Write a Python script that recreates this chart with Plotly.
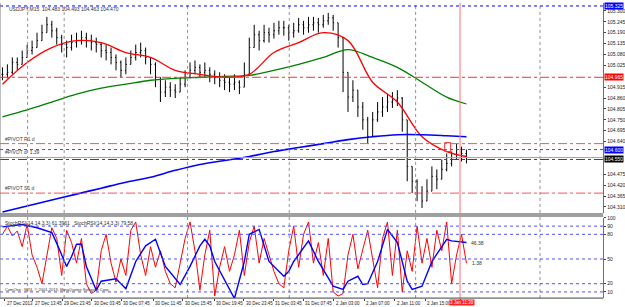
import plotly.graph_objects as go

# ---------------- data ----------------
closes = [104.980, 104.990, 105.040, 105.030, 105.065, 105.100, 105.115, 105.150, 105.190, 105.230,
          105.200, 105.165, 105.130, 105.115, 105.140, 105.150, 105.165, 105.150, 105.140, 105.130,
          105.100, 105.090, 105.065, 105.040, 105.000, 105.030, 105.065, 105.090, 105.100, 105.065,
          105.030, 104.965, 104.890, 104.915, 104.900, 104.890, 104.930, 104.965, 105.000, 105.015,
          104.990, 105.000, 104.980, 104.965, 104.950, 104.940, 104.930, 104.940, 104.915, 104.980,
          105.115, 105.180, 105.150, 105.190, 105.180, 105.200, 105.215, 105.215, 105.190, 105.200,
          105.230, 105.215, 105.230, 105.240, 105.230, 105.250, 105.265, 105.240, 105.165, 104.990,
          104.865, 104.900, 104.815, 104.750, 104.665, 104.750, 104.790, 104.815, 104.840, 104.850,
          104.860, 104.750, 104.515, 104.440, 104.380, 104.340, 104.390, 104.465, 104.450, 104.500,
          104.530, 104.550, 104.600, 104.580, 104.550]
highs = [105.015, 105.030, 105.065, 105.065, 105.100, 105.130, 105.150, 105.190, 105.230, 105.270,
         105.250, 105.215, 105.180, 105.150, 105.180, 105.190, 105.200, 105.190, 105.180, 105.165,
         105.140, 105.130, 105.115, 105.080, 105.050, 105.065, 105.100, 105.130, 105.140, 105.115,
         105.065, 105.040, 104.965, 104.950, 104.940, 104.930, 104.965, 105.000, 105.040, 105.050,
         105.030, 105.040, 105.015, 105.000, 104.990, 104.980, 104.965, 104.980, 104.950, 105.040,
         105.165, 105.230, 105.200, 105.230, 105.215, 105.240, 105.250, 105.250, 105.230, 105.240,
         105.265, 105.250, 105.270, 105.270, 105.265, 105.280, 105.290, 105.280, 105.240, 105.165,
         104.990, 104.950, 104.900, 104.840, 104.765, 104.790, 104.840, 104.865, 104.880, 104.890,
         104.900, 104.865, 104.750, 104.515, 104.450, 104.415, 104.450, 104.515, 104.500, 104.550,
         104.580, 104.590, 104.630, 104.615, 104.600]
lows = [104.950, 104.960, 104.980, 105.000, 105.030, 105.065, 105.080, 105.115, 105.150, 105.190,
        105.165, 105.130, 105.090, 105.065, 105.100, 105.115, 105.130, 105.115, 105.100, 105.090,
        105.065, 105.050, 105.030, 105.000, 104.965, 104.980, 105.030, 105.050, 105.065, 105.030,
        104.980, 104.915, 104.840, 104.865, 104.865, 104.860, 104.890, 104.915, 104.960, 104.980,
        104.960, 104.965, 104.940, 104.930, 104.915, 104.900, 104.890, 104.900, 104.880, 104.915,
        104.980, 105.115, 105.100, 105.140, 105.140, 105.160, 105.180, 105.175, 105.150, 105.165,
        105.190, 105.180, 105.190, 105.200, 105.190, 105.215, 105.230, 105.200, 105.115, 104.890,
        104.790, 104.840, 104.765, 104.700, 104.630, 104.665, 104.740, 104.765, 104.790, 104.810,
        104.820, 104.690, 104.440, 104.380, 104.340, 104.305, 104.340, 104.390, 104.400, 104.450,
        104.490, 104.515, 104.550, 104.540, 104.530]
bars = list(range(len(closes)))
opens = [closes[0]] + closes[:-1]

ma_idx = [0, 5, 10, 15, 20, 25, 30, 35, 40, 45, 50, 55, 60, 65, 70, 75, 80, 85, 90, 94]
ma_red = [104.930, 105.040, 105.115, 105.150, 105.140, 105.090, 105.065, 105.000, 104.980, 104.965,
          104.980, 105.090, 105.140, 105.190, 105.150, 104.940, 104.840, 104.665, 104.590, 104.565]
ma_green = [104.765, 104.800, 104.840, 104.880, 104.910, 104.930, 104.950, 104.960, 104.965, 104.970,
            104.975, 105.000, 105.030, 105.065, 105.105, 105.065, 105.015, 104.940, 104.865, 104.830]
ma_blue = [104.285, 104.315, 104.345, 104.375, 104.405, 104.435, 104.460, 104.495, 104.525, 104.545,
           104.565, 104.590, 104.610, 104.630, 104.650, 104.665, 104.675, 104.675, 104.670, 104.665]

stoch_fast = [80, 90, 78, 84, 65, 92, 55, 40, 20, 55, 88, 75, 30, 85, 70, 45, 75, 20, 8, 12,
              60, 80, 45, 22, 50, 30, 85, 95, 55, 30, 65, 40, 60, 35, 20, 15, 45, 75, 95, 60,
              12, 55, 85, 5, 40, 65, 35, 55, 85, 30, 70, 90, 45, 75, 55, 35, 20, 15, 60, 90,
              40, 80, 95, 45, 70, 30, 75, 10, 5, 8, 55, 80, 38, 60, 85, 50, 15, 75, 95, 30,
              85, 10, 60, 35, 90, 45, 75, 40, 85, 60, 95, 20, 55, 80, 45]
slow_idx = [0, 4, 7, 9, 10, 11, 12, 13, 14, 15, 16, 17, 19, 20, 23, 25, 27, 29, 31, 33, 36, 38, 40,
            41, 42, 43, 47, 49, 50, 52, 54, 57, 58, 59, 62, 64, 67, 69, 70, 72, 73, 74, 76, 78, 80,
            81, 82, 83, 85, 87, 90, 91, 94]
stoch_slow = [89, 92, 88, 84, 82, 69, 54, 41, 53, 68, 68, 41, 12, 23, 26, 14, 47, 66, 74, 41, 19, 41, 66,
              74, 66, 47, 2, 47, 80, 86, 47, 29, 35, 47, 72, 47, 17, 13, 23, 29, 19, 20, 47, 86, 70,
              47, 23, 13, 17, 47, 74, 72, 70]

price_ticks = [105.300, 105.245, 105.190, 105.135, 105.080, 105.025, 104.915, 104.860, 104.805,
               104.750, 104.695, 104.640, 104.475, 104.420, 104.365, 104.310]
level_values = [90, 80, 50, 20, 10]
time_pos = [0.5, 6.1, 12.1, 18.1, 24.1, 30.5, 36.5, 42.9, 48.9, 54.9, 60.9, 67.1, 73.3, 79.5, 85.7]
time_labels = ["27 Dec 2013", "27 Dec 13:45", "29 Dec 23:45", "30 Dec 03:45", "30 Dec 07:45",
               "30 Dec 11:45", "30 Dec 15:45", "30 Dec 19:45", "30 Dec 23:45", "31 Dec 03:45",
               "31 Dec 07:45", "2 Jan 03:00", "2 Jan 07:00", "2 Jan 11:00", "2 Jan 15:00"]
current_time_pos = 92.7
current_time_label = "3 Jan 11:30"
separators = [5.1, 12.5, 37.5, 58.1, 83.7, 108.9]

# horizontal price objects: (price, color, dash, left label, right box color)
hlines = [
    (105.325, "#0000ff", "dot", None, "#0000ff"),
    (104.965, "#ff3030", "dashdot", None, "#ff0000"),
    (104.630, "#ff5050", "dashdot", "#PIVOT R1 d", None),
    (104.600, "#4040ff", "dot", None, "#0000ff"),
    (104.560, "#ff8080", "solid", "#PIVOT d  1.39", None),
    (104.550, "#404040", "dashdot", None, "#000000"),
    (104.380, "#ff5050", "dashdot", "#PIVOT S1 d", None),
]

# ---------------- figure ----------------
H = 307.0
XR = 611.0 / 625.0
FONT = "Liberation Sans"


def py(y):
    return 1 - y / H


fig = go.Figure()
fig.add_trace(go.Ohlc(x=bars, open=opens, high=highs, low=lows, close=closes,
                      increasing=dict(line=dict(color="black", width=1)),
                      decreasing=dict(line=dict(color="black", width=1)),
                      tickwidth=0.2, xaxis="x", yaxis="y", showlegend=False, hoverinfo="skip"))
for vals, col, w in [(ma_green, "#008000", 1.3), (ma_red, "#ff0000", 1.3), (ma_blue, "#0000ff", 1.6)]:
    fig.add_trace(go.Scatter(x=ma_idx, y=vals, mode="lines", line=dict(color=col, width=w, shape="spline"),
                             xaxis="x", yaxis="y", showlegend=False, hoverinfo="skip"))
fig.add_trace(go.Scatter(x=bars, y=stoch_fast, mode="lines", line=dict(color="#ff0000", width=1),
                         xaxis="x2", yaxis="y2", showlegend=False, hoverinfo="skip"))
fig.add_trace(go.Scatter(x=slow_idx, y=stoch_slow, mode="lines", line=dict(color="#0000ff", width=1.4),
                         xaxis="x2", yaxis="y2", showlegend=False, hoverinfo="skip"))

shapes = []
annotations = []
# vertical separators through both panes
for s in separators:
    shapes.append(dict(type="line", xref="x", yref="paper", x0=s, x1=s, y0=py(212), y1=1,
                       line=dict(color="#909090", width=1, dash="dot")))
    shapes.append(dict(type="line", xref="x", yref="paper", x0=s, x1=s, y0=py(298), y1=py(216),
                       line=dict(color="#909090", width=1, dash="dot")))
shapes.append(dict(type="line", xref="x", yref="paper", x0=current_time_pos, x1=current_time_pos,
                   y0=py(298), y1=1, line=dict(color="#ff7070", width=1)))
# horizontal price objects
for price, col, dash, ltxt, box in hlines:
    shapes.append(dict(type="line", xref="paper", yref="y", x0=0, x1=XR, y0=price, y1=price,
                       line=dict(color=col, width=1, dash=dash)))
    if ltxt:
        annotations.append(dict(x=0.005, y=price, xref="paper", yref="y", text=ltxt, showarrow=False,
                                xanchor="left", yanchor="bottom", font=dict(size=5, color="#404040", family=FONT)))
    if box:
        annotations.append(dict(x=XR + 0.002, y=price, xref="paper", yref="y", text="%.3f" % price,
                                showarrow=False, xanchor="left", yanchor="middle", bgcolor=box,
                                font=dict(size=5, color="white", family=FONT), borderpad=0))
# small marker box
shapes.append(dict(type="rect", xref="x", yref="y", x0=89.6, x1=90.8, y0=104.590, y1=104.635,
                   line=dict(color="#ff3030", width=1)))
# indicator levels
for lv in level_values:
    shapes.append(dict(type="line", xref="paper", yref="y2", x0=0, x1=XR, y0=lv, y1=lv,
                       line=dict(color="#5050ff", width=1, dash="dot")))
# pane separator, axis frame
shapes.append(dict(type="rect", xref="paper", yref="paper", x0=0, x1=XR, y0=py(216), y1=py(212),
                   fillcolor="#a0a0a0", line=dict(width=0)))
shapes.append(dict(type="line", xref="paper", yref="paper", x0=0, x1=XR, y0=py(298), y1=py(298),
                   line=dict(color="#404040", width=1)))
shapes.append(dict(type="line", xref="paper", yref="paper", x0=0, x1=0, y0=py(298), y1=1,
                   line=dict(color="#808080", width=1)))

# texts
annotations.append(dict(x=0.012, y=py(1), xref="paper", yref="paper", showarrow=False, xanchor="left",
                        yanchor="top", text="USDJPY,M15  104.483 104.493 104.463 104.470",
                        font=dict(size=5, color="#303030", family=FONT)))
annotations.append(dict(x=0.005, y=py(217), xref="paper", yref="paper", showarrow=False, xanchor="left",
                        yanchor="top", text="StochRSI(14,14,3,3) 61.3961   StochRSI(14,14,3,3) 79.58",
                        font=dict(size=5, color="#303030", family=FONT)))
annotations.append(dict(x=0.005, y=py(289), xref="paper", yref="paper", showarrow=False, xanchor="left",
                        yanchor="middle", text="ComOne : MT4, © 2001-2013, MetaQuotes Software Corp.",
                        font=dict(size=4, color="#303030", family=FONT)))
annotations.append(dict(x=94.5, y=stoch_slow[-1], xref="x2", yref="y2", showarrow=False, xanchor="left",
                        text="46.38", font=dict(size=5, color="#303030", family=FONT)))
annotations.append(dict(x=94.8, y=stoch_fast[-1], xref="x2", yref="y2", showarrow=False, xanchor="left",
                        text="1.38", font=dict(size=5, color="#303030", family=FONT)))
for pos, lab in zip(time_pos, time_labels):
    annotations.append(dict(x=pos, y=py(299), xref="x2", yref="paper", showarrow=False, xanchor="left",
                            yanchor="top", text=lab, font=dict(size=4.5, color="#202020", family=FONT)))
annotations.append(dict(x=current_time_pos - 2.2, y=py(299), xref="x2", yref="paper", showarrow=False,
                        xanchor="left", yanchor="top", text=current_time_label, bgcolor="#ff2020",
                        borderpad=0, font=dict(size=4.5, color="white", family=FONT)))

xr = [-0.5, 121.7]
fig.update_layout(
    width=625, height=307, margin=dict(l=0, r=0, t=0, b=0),
    paper_bgcolor="white", plot_bgcolor="white", showlegend=False,
    font=dict(family=FONT, size=5, color="black"),
    xaxis=dict(domain=[0, XR], range=xr, anchor="y", showticklabels=False, showgrid=False,
               zeroline=False, rangeslider=dict(visible=False), fixedrange=True),
    xaxis2=dict(domain=[0, XR], range=xr, anchor="y2", matches="x", showticklabels=False, showgrid=False,
                zeroline=False, ticks="outside", ticklen=2, tickcolor="#404040",
                tickvals=time_pos + [current_time_pos]),
    yaxis=dict(domain=[py(212), 1], range=[104.28, 105.34], side="right", anchor="x", showgrid=False,
               zeroline=False, showline=True, linecolor="#707070", linewidth=1, ticks="outside",
               ticklen=2, tickcolor="#404040", tickvals=price_ticks, tickformat=".3f",
               tickfont=dict(size=5, color="#202020", family=FONT)),
    yaxis2=dict(domain=[py(298), py(217)], range=[2.5, 100], side="right", anchor="x2", showgrid=False,
                zeroline=False, showline=True, linecolor="#707070", linewidth=1, ticks="outside",
                ticklen=2, tickcolor="#404040", tickvals=[100] + level_values,
                tickfont=dict(size=5, color="#202020", family=FONT)),
    shapes=shapes, annotations=annotations,
)
fig.write_html("out.html")
